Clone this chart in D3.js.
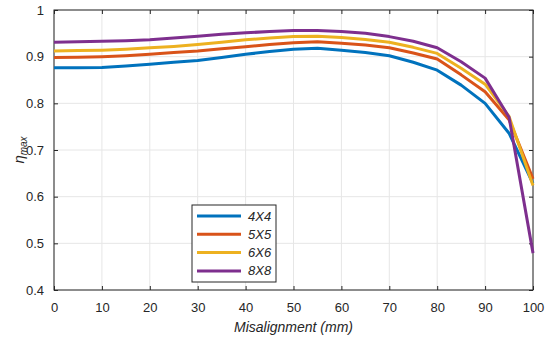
<!DOCTYPE html>
<html>
<head>
<meta charset="utf-8">
<script src="https://cdn.jsdelivr.net/npm/d3@7"></script>
<style>
	body { margin: 0; background: #fff; }
	svg { display: block; font-family: 'Liberation Sans', Arial, sans-serif; }
</style>
</head>
<body>
<div class="chart"></div>
<script>
// misalignment in mm
const misalignment = [0, 5, 10, 15, 20, 25, 30, 35, 40, 45, 50, 55, 60, 65, 70, 75, 80, 85, 90, 95, 100];
const eta4x4 = [0.876, 0.876, 0.877, 0.880, 0.884, 0.888, 0.892, 0.898, 0.905, 0.911, 0.916, 0.918, 0.914, 0.909, 0.902, 0.888, 0.871, 0.839, 0.800, 0.736, 0.628];
const eta5x5 = [0.898, 0.899, 0.900, 0.902, 0.905, 0.909, 0.912, 0.917, 0.921, 0.926, 0.930, 0.932, 0.929, 0.925, 0.919, 0.908, 0.895, 0.861, 0.825, 0.765, 0.638];
const eta6x6 = [0.912, 0.913, 0.914, 0.916, 0.919, 0.922, 0.926, 0.931, 0.936, 0.940, 0.943, 0.944, 0.941, 0.937, 0.931, 0.920, 0.907, 0.875, 0.841, 0.772, 0.624];
const eta8x8 = [0.931, 0.932, 0.933, 0.934, 0.936, 0.940, 0.944, 0.948, 0.951, 0.954, 0.956, 0.956, 0.954, 0.950, 0.943, 0.933, 0.919, 0.889, 0.854, 0.770, 0.479];
const seriesNames = ['4X4', '5X5', '6X6', '8X8'];
const xTicks = [0, 10, 20, 30, 40, 50, 60, 70, 80, 90, 100];
const yTicks = [0.4, 0.5, 0.6, 0.7, 0.8, 0.9, 1];

const series = [eta4x4, eta5x5, eta6x6, eta8x8];
const colors = ['#0072BD', '#D95319', '#EDB120', '#7E2F8E'];

const width = 550,
	height = 342,
	margin = { top: 10, right: 17, bottom: 52, left: 54 },
	w = width - margin.left - margin.right,
	h = height - margin.top - margin.bottom,
	axisColor = '#262626';

const x = d3.scaleLinear().domain([0, 100]).range([0, w]);
const y = d3.scaleLinear().domain([0.4, 1]).range([h, 0]);

const svg = d3.select('.chart').append('svg')
	.attr('width', width)
	.attr('height', height);

const g = svg.append('g').attr('transform', 'translate(' + margin.left + ',' + margin.top + ')');

// grid
g.append('g')
	.selectAll('line')
	.data(xTicks)
	.enter().append('line')
	.attr('x1', d => x(d)).attr('x2', d => x(d))
	.attr('y1', 0).attr('y2', h)
	.attr('stroke', '#e6e6e6');
g.append('g')
	.selectAll('line')
	.data(yTicks)
	.enter().append('line')
	.attr('x1', 0).attr('x2', w)
	.attr('y1', d => y(d)).attr('y2', d => y(d))
	.attr('stroke', '#e6e6e6');

// axes, ticks pointing inward
const styleAxis = sel => {
	sel.select('.domain').remove();
	sel.selectAll('line').attr('stroke', axisColor);
	sel.selectAll('text').attr('fill', axisColor).attr('font-size', 13);
};

g.append('g')
	.attr('transform', 'translate(0,' + h + ')')
	.call(d3.axisBottom(x).tickValues(xTicks).tickSizeInner(-4).tickPadding(13))
	.call(styleAxis);
g.append('g')
	.call(d3.axisTop(x).tickValues(xTicks).tickSizeInner(-4).tickFormat(''))
	.call(styleAxis);
g.append('g')
	.call(d3.axisLeft(y).tickValues(yTicks).tickSizeInner(-4).tickPadding(10).tickFormat(d3.format('')))
	.call(styleAxis);
g.append('g')
	.attr('transform', 'translate(' + w + ',0)')
	.call(d3.axisRight(y).tickValues(yTicks).tickSizeInner(-4).tickFormat(''))
	.call(styleAxis);

g.append('rect')
	.attr('width', w).attr('height', h)
	.attr('fill', 'none')
	.attr('stroke', axisColor)
	.attr('stroke-width', 1);

// lines
const line = d3.line()
	.x((d, i) => x(misalignment[i]))
	.y(d => y(d));

g.selectAll('.series')
	.data(series)
	.enter().append('path')
	.attr('class', 'series')
	.attr('fill', 'none')
	.attr('stroke', (d, i) => colors[i])
	.attr('stroke-width', 3)
	.attr('stroke-linejoin', 'round')
	.attr('d', line);

// axis labels
svg.append('text')
	.attr('x', margin.left + w / 2)
	.attr('y', 332)
	.attr('text-anchor', 'middle')
	.attr('font-size', 14)
	.attr('font-style', 'italic')
	.attr('fill', axisColor)
	.text('Misalignment (mm)');

const yl = svg.append('text')
	.attr('transform', 'translate(24,' + (margin.top + h / 2) + ') rotate(-90)')
	.attr('text-anchor', 'middle')
	.attr('font-style', 'italic')
	.attr('fill', axisColor);
yl.append('tspan').attr('font-size', 15).text('η');
yl.append('tspan').attr('font-size', 10).attr('dy', 3).text('max');

// legend
const legend = svg.append('g').attr('transform', 'translate(192,205)');
legend.append('rect')
	.attr('width', 84).attr('height', 77)
	.attr('fill', '#fff')
	.attr('stroke', axisColor);
const items = legend.selectAll('.item')
	.data(seriesNames)
	.enter().append('g')
	.attr('transform', (d, i) => 'translate(0,' + (11 + i * 18.3) + ')');
items.append('line')
	.attr('x1', 5).attr('x2', 49)
	.attr('stroke', (d, i) => colors[i])
	.attr('stroke-width', 3);
items.append('text')
	.attr('x', 56).attr('dy', '0.35em')
	.attr('font-size', 13)
	.attr('font-style', 'italic')
	.attr('fill', axisColor)
	.text(d => d);
</script>
</body>
</html>
